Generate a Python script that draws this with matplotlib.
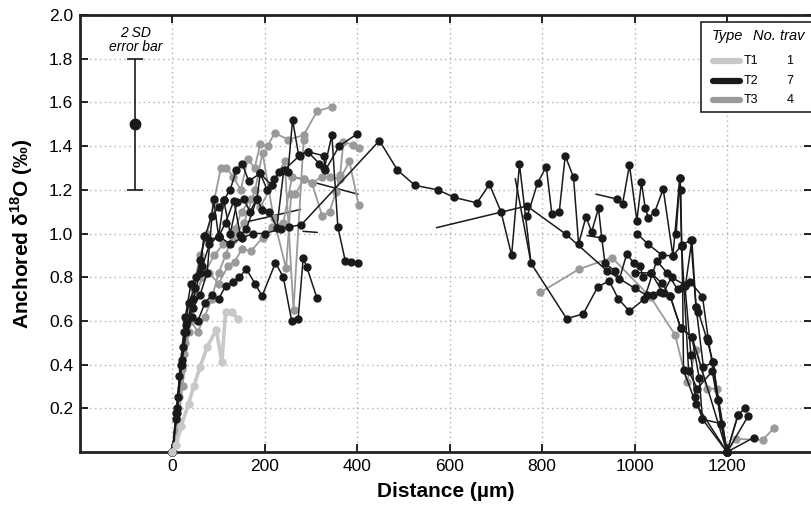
import matplotlib
matplotlib.use("Agg")
import matplotlib.pyplot as plt
from matplotlib.patches import Rectangle
from matplotlib.lines import Line2D

plt.rcParams["font.family"] = ["Liberation Sans", "DejaVu Sans"]
plt.rcParams["mathtext.fontset"] = "custom"
plt.rcParams["mathtext.bf"] = "Liberation Sans:bold"
plt.rcParams["mathtext.rm"] = "Liberation Sans"

_BLACK, _GRAY, _LIGHT = "#1a1a1a", "#9a9a9a", "#c8c8c8"

# ---- traverses, (distance um, anchored d18O) ----
t1_a = [(0, 0), (8, 0.03), (19, 0.12), (35, 0.22), (46, 0.30), (60, 0.39), (75, 0.48),
        (95, 0.56), (107, 0.41), (115, 0.64), (129, 0.64), (141, 0.61)]

t3_a = [(0, 0), (10, 0.15), (20, 0.38), (30, 0.6), (45, 0.75), (60, 0.9), (75, 1.0), (90, 1.15),
        (105, 1.3), (117, 1.30), (131, 1.26), (148, 1.2), (163, 1.34), (178, 1.3), (190, 1.41),
        (206, 1.40), (221, 1.46), (251, 1.43), (284, 1.45), (313, 1.56), (345, 1.58)]
t3_b = [(0, 0), (12, 0.2), (25, 0.45), (38, 0.65), (50, 0.72), (70, 0.82), (90, 0.9), (110, 0.95),
        (130, 0.97), (155, 1.05), (179, 1.2), (195, 1.37), (219, 1.07), (246, 0.84), (257, 1.18),
        (266, 1.18), (285, 1.25), (302, 1.23), (324, 1.08), (340, 1.1), (354, 1.19), (363, 1.27),
        (370, 1.42), (391, 1.405), (403, 1.39)]
t3_c = [(0, 0), (10, 0.1), (22, 0.3), (35, 0.55), (50, 0.72), (65, 0.8), (80, 0.82), (100, 0.77),
        (120, 0.85), (135, 0.87), (150, 0.93), (170, 0.92), (195, 0.98), (215, 1.03), (240, 1.05),
        (259, 1.26), (284, 1.25), (301, 1.23), (324, 1.26), (340, 1.26), (363, 1.25), (383, 1.33),
        (403, 1.13)]
t3_d = [(0, 0), (15, 0.25), (28, 0.5), (40, 0.6), (55, 0.55), (70, 0.62), (85, 0.7), (100, 0.82),
        (115, 0.9), (135, 1.02), (150, 1.1), (170, 1.16), (190, 1.12), (215, 1.22), (243, 1.33),
        (262, 0.65), (284, 1.43)]
t3_e = [(796, 0.73), (879, 0.836), (951, 0.89), (1035, 0.708), (1088, 0.535), (1113, 0.32),
        (1134, 0.467), (1156, 0.29), (1179, 0.29), (1200, 0)]
t3_f = [(1200, 0), (1219, 0.06), (1277, 0.055), (1302, 0.11)]

t2_a = [(0, 0), (8, 0.18), (18, 0.4), (28, 0.62), (40, 0.77), (52, 0.8), (65, 0.85), (80, 0.95),
        (100, 0.99), (125, 0.95), (150, 0.98), (175, 1.0), (200, 1.0), (234, 1.02), (252, 1.03),
        (279, 1.04), (448, 1.425), (487, 1.29), (525, 1.22), (574, 1.20), (610, 1.165), (659, 1.14),
        (686, 1.225), (711, 1.10), (734, 0.90), (751, 1.317), (776, 0.864), (853, 0.61), (889, 0.632),
        (920, 0.754), (945, 0.784), (965, 0.70), (989, 0.645), (1021, 0.70), (1048, 0.876),
        (1071, 0.818), (1093, 0.745), (1120, 0.78), (1147, 0.711), (1160, 0.51), (1181, 0.24), (1200, 0)]
t2_b = [(0, 0), (8, 0.15), (15, 0.35), (25, 0.55), (35, 0.68), (48, 0.75), (60, 0.88), (71, 0.99),
        (85, 1.08), (100, 1.12), (111, 1.153), (125, 1.2), (138, 1.29), (151, 1.32), (165, 1.24),
        (190, 1.275), (215, 1.22), (230, 1.28), (250, 1.28), (260, 1.52), (273, 1.36), (293, 1.374),
        (318, 1.32), (329, 1.30), (345, 1.45), (358, 1.03), (374, 0.875), (387, 0.87), (401, 0.865)]
t2_c = [(0, 0), (10, 0.2), (20, 0.42), (30, 0.58), (45, 0.7), (60, 0.82), (68, 0.99), (80, 0.97),
        (100, 0.985), (115, 1.05), (133, 1.15), (147, 0.993), (160, 1.02), (183, 1.16), (194, 1.107),
        (210, 1.1), (226, 1.027), (241, 1.29), (275, 1.356), (293, 1.374), (327, 1.356), (331, 1.29),
        (361, 1.40), (399, 1.455)]
t2_d = [(0, 0), (10, 0.18), (20, 0.4), (30, 0.55), (42, 0.62), (55, 0.6), (70, 0.68), (85, 0.72),
        (100, 0.7), (115, 0.76), (130, 0.78), (145, 0.8), (160, 0.837), (179, 0.77), (194, 0.714),
        (223, 0.866), (240, 0.8), (258, 0.6), (272, 0.61), (283, 0.886), (291, 0.845), (313, 0.703)]
t2_e = [(0, 0), (12, 0.25), (22, 0.48), (32, 0.6), (45, 0.66), (60, 0.72), (75, 0.82), (89, 1.157),
        (100, 0.985), (111, 1.153), (125, 1.0), (140, 1.146), (154, 1.157), (168, 1.1), (183, 1.16),
        (190, 1.275), (205, 1.2), (220, 1.25)]
t2_f = [(768, 1.08), (790, 1.23), (809, 1.306), (821, 1.09), (837, 1.097), (850, 1.356), (868, 1.257),
        (879, 0.952), (895, 1.077), (907, 1.007), (922, 1.115), (929, 0.98), (936, 0.864), (958, 0.828),
        (967, 0.79), (983, 0.905), (999, 0.864), (1012, 0.853), (1018, 0.80), (1036, 0.82), (1062, 0.726),
        (1080, 0.80), (1109, 0.764), (1122, 0.444), (1131, 0.25), (1147, 0.15), (1200, 0)]
t2_g = [(961, 1.158), (974, 1.135), (989, 1.313), (1005, 1.059), (1015, 1.234), (1023, 1.118),
        (1030, 1.072), (1044, 1.10), (1062, 1.204), (1083, 0.898), (1098, 1.253), (1100, 1.2),
        (1102, 0.943), (1104, 0.757), (1106, 0.375), (1133, 0.22), (1200, 0)]
t2_h = [(1005, 1.0), (1030, 0.95), (1060, 0.9), (1083, 0.898), (1102, 0.947), (1122, 0.97),
        (1133, 0.665), (1149, 0.39), (1170, 0.41), (1181, 0.24), (1200, 0), (1224, 0.17), (1239, 0.2)]
t2_i = [(1000, 0.82), (1036, 0.82), (1059, 0.772), (1077, 0.714), (1100, 0.566), (1124, 0.528),
        (1140, 0.337), (1147, 0.15), (1187, 0.13), (1200, 0), (1258, 0.066)]
t2_j = [(1090, 1.0), (1098, 1.253), (1102, 0.943), (1117, 0.37), (1136, 0.29), (1168, 0.37),
        (1200, 0), (1246, 0.165)]
t2_k = [(1110, 0.76), (1124, 0.97), (1133, 0.665), (1138, 0.642), (1156, 0.52), (1170, 0.41),
        (1187, 0.13), (1200, 0), (1224, 0.17)]
t2_l = [(767, 1.126), (852, 0.996), (940, 0.83), (1000, 0.75), (1026, 0.718), (1040, 0.72),
        (1055, 0.73), (1077, 0.714), (1100, 0.566), (1124, 0.528), (1200, 0)]

# straight segments without markers
plain = [[(572, 1.027), (767, 1.126)], [(742, 1.25), (776, 0.864)], [(917, 1.18), (961, 1.158)],
         [(898, 0.99), (929, 0.98)], [(234, 1.275), (401, 1.18)], [(154, 1.05), (277, 1.11)],
         [(283, 1.01), (313, 1.005)]]

sd_x, sd_mean, sd_err = -80, 1.5, 0.3
legend_types = ["T1", "T2", "T3"]
legend_counts = ["1", "7", "4"]

W, H = 811, 513
fig = plt.figure(figsize=(W / 100, H / 100), dpi=100)
ax = fig.add_axes([80 / W, 1 - 452 / H, (812 - 80) / W, (452 - 15) / H])


def draw(pts, color, lw, ms=5.0, z=3):
    xs = [p[0] for p in pts]
    ys = [p[1] for p in pts]
    ax.plot(xs, ys, "-o", color=color, lw=lw, ms=ms, mec=color, mfc=color, zorder=z, clip_on=False)


for seg in plain:
    ax.plot([p[0] for p in seg], [p[1] for p in seg], color=_BLACK, lw=1.1, zorder=3)
for tr in (t3_a, t3_b, t3_c, t3_d, t3_e, t3_f):
    draw(tr, _GRAY, 1.3)
draw(t1_a, _LIGHT, 2.6, z=3.5)
for tr in (t2_a, t2_b, t2_c, t2_d, t2_e, t2_f, t2_g, t2_h, t2_i, t2_j, t2_k, t2_l):
    draw(tr, _BLACK, 1.1)

ax.errorbar([sd_x], [sd_mean], yerr=[sd_err], fmt="o", color=_BLACK, ms=7.5, capsize=6,
            elinewidth=1.2, capthick=1.2, zorder=4)
ax.text(sd_x, 1.885, "2 SD\nerror bar", ha="center", va="center", style="italic",
        fontsize=10, linespacing=0.95)

ax.set_xlim(-200, 1384)
ax.set_ylim(0, 2.0)
ax.set_xticks(range(0, 1201, 200))
ax.set_yticks([0.2 * i for i in range(1, 11)])
ax.set_yticklabels([f"{0.2 * i:.1f}" for i in range(1, 11)])
ax.tick_params(direction="in", length=6, width=1.2, labelsize=12.5, top=True, right=True,
               pad=5)
ax.grid(True, linestyle=(0, (1, 2.5)), color="#b0b0b0", lw=1.0)
ax.set_axisbelow(True)
for s in ax.spines.values():
    s.set_linewidth(2.0)
    s.set_color("#222222")

ax.set_xlabel("Distance (µm)", fontsize=15, fontweight="bold", labelpad=6)
ax.set_ylabel(r"Anchored δ$^{\mathbf{18}}$O (‰)", fontsize=15, fontweight="bold", labelpad=10)

# legend box (runs off the right edge of the figure, as in the source)
fig.add_artist(Rectangle((701 / W, 1 - 112 / H), 200 / W, 90 / H, transform=fig.transFigure,
                         facecolor="white", edgecolor="#222222", lw=1.2, zorder=10))
fig.text(712 / W, 1 - 36 / H, "Type", style="italic", fontsize=10.5, va="center", zorder=11)
fig.text(753 / W, 1 - 36 / H, "No. trav", style="italic", fontsize=10.5, va="center", zorder=11)
for i, (lab, cnt, col) in enumerate(zip(legend_types, legend_counts, (_LIGHT, _BLACK, _GRAY))):
    yy = 1 - (61 + 19.5 * i) / H
    fig.add_artist(Line2D([713 / W, 740 / W], [yy, yy], transform=fig.transFigure, color=col,
                          lw=4.5, solid_capstyle="round", zorder=11))
    fig.text(744 / W, yy, lab, fontsize=9, va="center", zorder=11)
    fig.text(790 / W, yy, cnt, fontsize=9, va="center", ha="center", zorder=11)

fig.savefig("out.png", dpi=100)
